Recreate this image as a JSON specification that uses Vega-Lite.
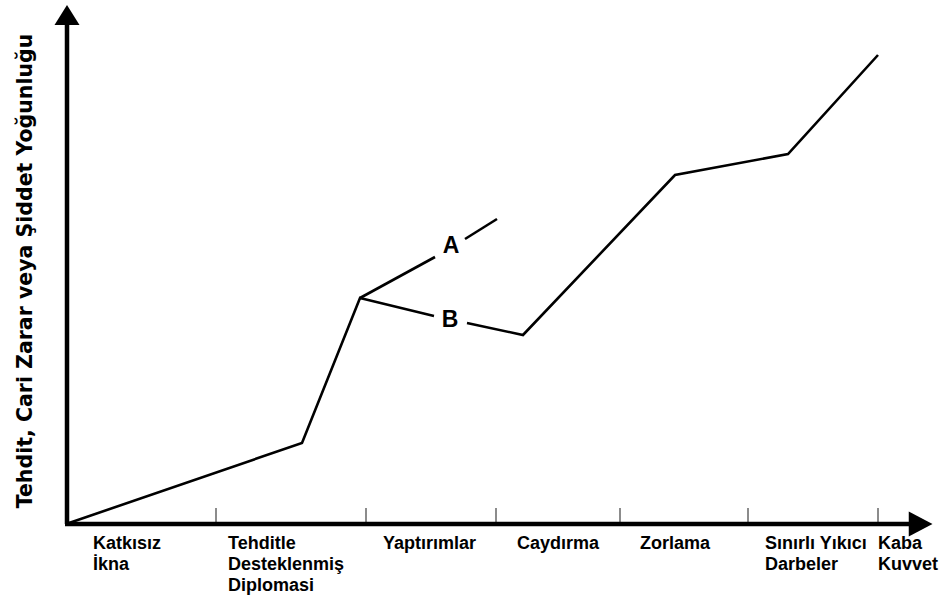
{
  "$schema": "https://vega.github.io/schema/vega-lite/v6.json",
  "width": 874,
  "height": 524,
  "autosize": "none",
  "padding": {"left": 67, "top": 0, "right": 0, "bottom": 75},
  "background": "white",
  "config": {"view": {"stroke": null}},
  "datasets": {
    "curve": [
      {"seg": 1, "o": 1, "x": 2, "y": 1},
      {"seg": 1, "o": 2, "x": 235, "y": 81},
      {"seg": 1, "o": 3, "x": 293, "y": 226},
      {"seg": 1, "o": 4, "x": 367, "y": 208},
      {"seg": 2, "o": 1, "x": 400, "y": 201},
      {"seg": 2, "o": 2, "x": 456, "y": 189},
      {"seg": 2, "o": 3, "x": 608, "y": 349},
      {"seg": 2, "o": 4, "x": 721, "y": 370},
      {"seg": 2, "o": 5, "x": 811, "y": 469},
      {"seg": 3, "o": 1, "x": 293, "y": 226},
      {"seg": 3, "o": 2, "x": 368, "y": 267},
      {"seg": 4, "o": 1, "x": 398, "y": 285},
      {"seg": 4, "o": 2, "x": 430, "y": 305}
    ],
    "branchLabels": [
      {"t": "A", "x": 384, "y": 271},
      {"t": "B", "x": 383, "y": 197}
    ],
    "ticks": [
      {"x": 149}, {"x": 299}, {"x": 429}, {"x": 553}, {"x": 681}, {"x": 811}
    ],
    "cats": [
      {"t": "Katkısız\nİkna", "x": 26},
      {"t": "Tehditle\nDesteklenmiş\nDiplomasi", "x": 161},
      {"t": "Yaptırımlar", "x": 316},
      {"t": "Caydırma", "x": 450},
      {"t": "Zorlama", "x": 573},
      {"t": "Sınırlı Yıkıcı\nDarbeler", "x": 698},
      {"t": "Kaba\nKuvvet", "x": 811}
    ],
    "axesLines": [
      {"x": 0, "y": 0, "x2": 0, "y2": 500},
      {"x": -2, "y": 0, "x2": 842, "y2": 0}
    ],
    "arrows": [
      {"x": 0, "y": 509, "dir": "up"},
      {"x": 853, "y": 0, "dir": "right"}
    ],
    "title": [
      {"t": "Tehdit, Cari Zarar veya Şiddet Yoğunluğu", "x": -35, "y": 253}
    ]
  },
  "layer": [
    {
      "data": {"name": "ticks"},
      "mark": {"type": "rule", "color": "#8c8c8c", "strokeWidth": 2},
      "encoding": {
        "x": {"field": "x", "type": "quantitative", "scale": {"domain": [0, 874], "range": [0, 874], "nice": false, "zero": false}, "axis": null},
        "y": {"datum": 0, "type": "quantitative", "scale": {"domain": [0, 524], "range": [524, 0], "nice": false, "zero": false}, "axis": null},
        "y2": {"datum": 16}
      }
    },
    {
      "data": {"name": "axesLines"},
      "mark": {"type": "rule", "color": "black", "strokeWidth": 4.5},
      "encoding": {
        "x": {"field": "x", "type": "quantitative"},
        "x2": {"field": "x2"},
        "y": {"field": "y", "type": "quantitative"},
        "y2": {"field": "y2"}
      }
    },
    {
      "data": {"name": "arrows"},
      "mark": {"type": "point", "filled": true, "color": "black", "opacity": 1, "size": 625},
      "encoding": {
        "x": {"field": "x", "type": "quantitative"},
        "y": {"field": "y", "type": "quantitative"},
        "shape": {
          "field": "dir",
          "type": "nominal",
          "scale": {"domain": ["up", "right"], "range": ["M-1,0.8L0,-0.8L1,0.8Z", "M-0.9,-1L1,0L-0.9,1Z"]},
          "legend": null
        }
      }
    },
    {
      "data": {"name": "curve"},
      "mark": {"type": "line", "color": "black", "strokeWidth": 2.6, "strokeJoin": "miter", "strokeCap": "butt"},
      "encoding": {
        "x": {"field": "x", "type": "quantitative"},
        "y": {"field": "y", "type": "quantitative"},
        "detail": {"field": "seg", "type": "nominal"},
        "order": {"field": "o", "type": "quantitative"}
      }
    },
    {
      "data": {"name": "branchLabels"},
      "mark": {"type": "text", "font": "Liberation Sans", "fontWeight": "bold", "fontSize": 23, "align": "center", "baseline": "alphabetic", "color": "black"},
      "encoding": {
        "x": {"field": "x", "type": "quantitative"},
        "y": {"field": "y", "type": "quantitative"},
        "text": {"field": "t"}
      }
    },
    {
      "data": {"name": "cats"},
      "mark": {"type": "text", "font": "Liberation Sans", "fontWeight": "bold", "fontSize": 18, "align": "left", "baseline": "alphabetic", "lineBreak": "\n", "lineHeight": 21, "color": "black"},
      "encoding": {
        "x": {"field": "x", "type": "quantitative"},
        "y": {"datum": -25, "type": "quantitative"},
        "text": {"field": "t"}
      }
    },
    {
      "data": {"name": "title"},
      "mark": {"type": "text", "font": "DejaVu Sans", "fontWeight": "bold", "fontSize": 20.5, "align": "center", "baseline": "alphabetic", "angle": 270, "color": "black"},
      "encoding": {
        "x": {"field": "x", "type": "quantitative"},
        "y": {"field": "y", "type": "quantitative"},
        "text": {"field": "t"}
      }
    }
  ]
}
